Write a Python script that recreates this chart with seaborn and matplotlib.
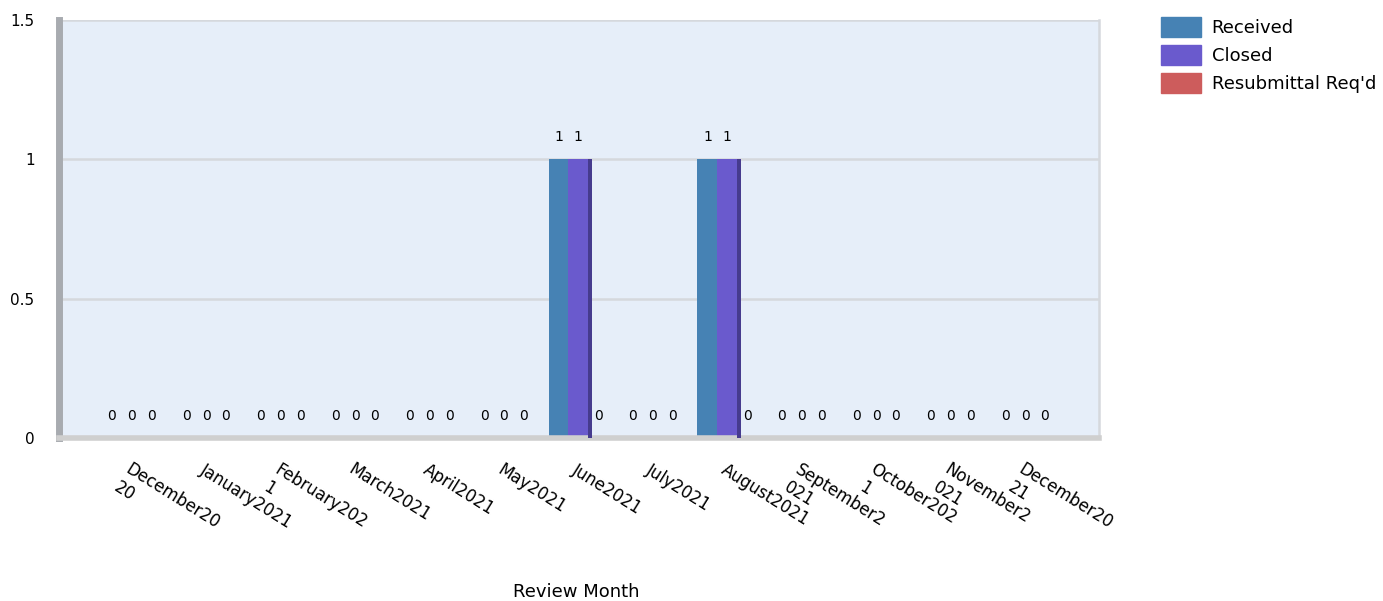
import numpy as np
import pandas as pd
import seaborn as sns
import matplotlib.pyplot as plt

months = ["December20\n20", "January2021", "February202\n1", "March2021", "April2021",
          "May2021", "June2021", "July2021", "August2021", "September2\n021",
          "October202\n1", "November2\n021", "December20\n21"]
received = [0, 0, 0, 0, 0, 0, 1, 0, 1, 0, 0, 0, 0]
closed = [0, 0, 0, 0, 0, 0, 1, 0, 1, 0, 0, 0, 0]
resubmittal = [0, 0, 0, 0, 0, 0, 0, 0, 0, 0, 0, 0, 0]
series = ["Received", "Closed", "Resubmittal Req'd"]
colors = ["#4682B4", "#6A5ACD", "#CD5C5C"]

df = pd.DataFrame({"month": months * 3,
                   "value": received + closed + resubmittal,
                   "series": np.repeat(series, len(months))})

sns.set_style("white")
plt.rcParams['font.family'] = ['DejaVu Sans']
plt.rcParams['text.color'] = 'black'
plt.rcParams['xtick.labelcolor'] = 'black'
plt.rcParams['ytick.labelcolor'] = 'black'

fig = plt.figure(figsize=(13.83, 6.01), dpi=100)
ax = fig.add_axes([0.043, 0.271, 0.752, 0.696])
ax.set_facecolor("#E6EEF9")

sns.barplot(data=df, x="month", y="value", hue="series", palette=colors,
            width=0.8, ax=ax, legend=False, saturation=1, edgecolor="none")

# darker right side on the visible bars (only the last one shows it)
for p in ax.containers[1]:
    if p.get_height() > 0:
        x1 = p.get_x() + p.get_width()
        ax.fill_between([x1, x1 + 0.05], 0, p.get_height(), color="#463B8E", lw=0, zorder=3)

for cont in ax.containers:
    ax.bar_label(cont, fmt="%g", padding=11, fontsize=10, color="black")

ax.set_ylim(0, 1.5)
ax.set_xlim(-0.97, 13.0)
ax.set_yticks([0, 0.5, 1, 1.5])
ax.set_yticklabels(["0", "0.5", "1", "1.5"], fontsize=11)
ax.yaxis.grid(True, color="#D5D8DD", lw=1.8)
ax.set_axisbelow(True)
ax.tick_params(axis="y", length=14, width=1.8, color="#D5D8DD", pad=4)

ax.set_xticks(range(len(months)))
ax.set_xticklabels(months, rotation=-32, ha="left", va="top",
                   rotation_mode="anchor", fontsize=12)
ax.set_xticks([-0.97, 13.0], minor=True)
ax.tick_params(axis="x", which="both", length=10, width=1.8, color="#D5D8DD", pad=6)

ax.spines["left"].set_color("#A8ABB0")
ax.spines["left"].set_linewidth(5)
ax.spines["bottom"].set_color("#CFCFCF")
ax.spines["bottom"].set_linewidth(4)
ax.spines["right"].set_color("#D5D8DD")
ax.spines["right"].set_linewidth(1.8)
ax.spines["top"].set_visible(False)

ax.set_xlabel("")
ax.set_ylabel("")
fig.text(0.417, 1 - 592 / 601, "Review Month", fontsize=13, ha="center", va="center")

handles = [plt.Rectangle((0, 0), 1, 1, color=c) for c in colors]
fig.legend(handles, series, loc="upper left", bbox_to_anchor=(0.837, 0.978),
           frameon=False, fontsize=13, handlelength=2.2, handleheight=1.35,
           labelspacing=0.42, handletextpad=0.6, borderaxespad=0, borderpad=0.2)

fig.savefig("out.png", dpi=100)
